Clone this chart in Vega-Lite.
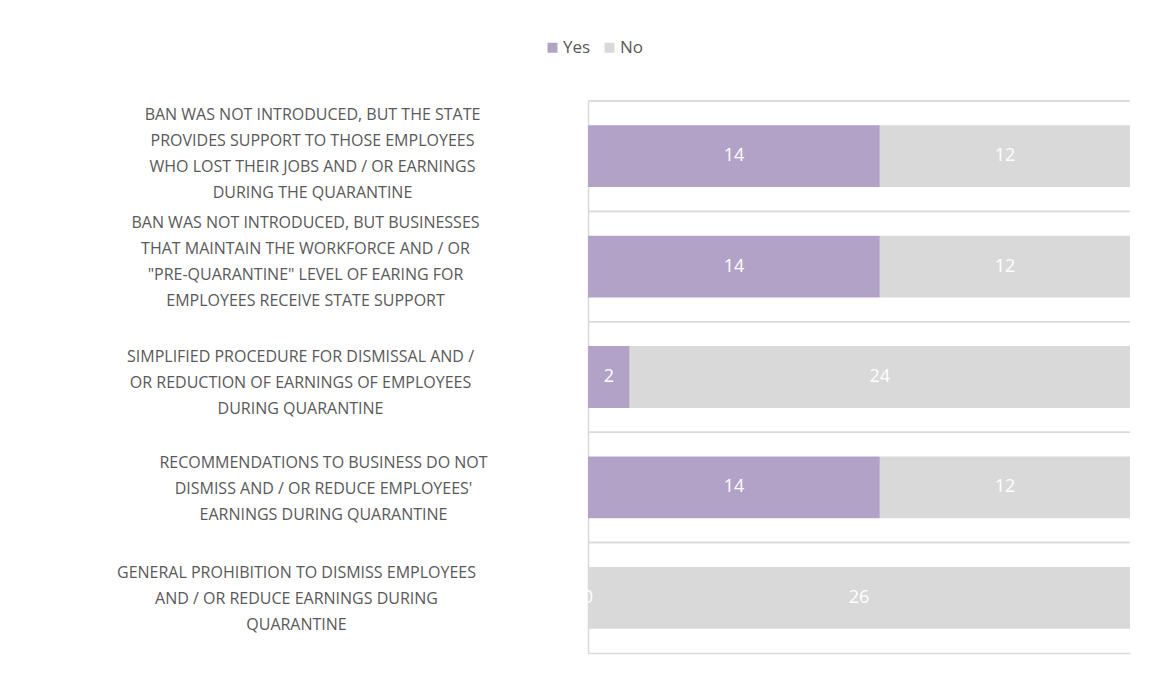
{
  "$schema": "https://vega.github.io/schema/vega-lite/v6.json",
  "width": 542,
  "height": 552,
  "autosize": {"type": "none"},
  "padding": {"left": 588, "top": 101, "right": 21, "bottom": 22},
  "background": "white",
  "config": {"view": {"stroke": null}},
  "data": {
    "values": [
      {"category": "BAN WAS NOT INTRODUCED, BUT THE STATE|PROVIDES SUPPORT TO THOSE EMPLOYEES|WHO LOST THEIR JOBS AND / OR EARNINGS|DURING THE QUARANTINE", "answer": "Yes", "order": 1, "count": 14},
      {"category": "BAN WAS NOT INTRODUCED, BUT THE STATE|PROVIDES SUPPORT TO THOSE EMPLOYEES|WHO LOST THEIR JOBS AND / OR EARNINGS|DURING THE QUARANTINE", "answer": "No", "order": 2, "count": 12},
      {"category": "BAN WAS NOT INTRODUCED, BUT BUSINESSES|THAT MAINTAIN THE WORKFORCE AND / OR|\"PRE-QUARANTINE\" LEVEL OF EARING FOR|EMPLOYEES RECEIVE STATE SUPPORT", "answer": "Yes", "order": 1, "count": 14},
      {"category": "BAN WAS NOT INTRODUCED, BUT BUSINESSES|THAT MAINTAIN THE WORKFORCE AND / OR|\"PRE-QUARANTINE\" LEVEL OF EARING FOR|EMPLOYEES RECEIVE STATE SUPPORT", "answer": "No", "order": 2, "count": 12},
      {"category": "SIMPLIFIED PROCEDURE FOR DISMISSAL AND /|OR REDUCTION OF EARNINGS OF EMPLOYEES|DURING QUARANTINE", "answer": "Yes", "order": 1, "count": 2},
      {"category": "SIMPLIFIED PROCEDURE FOR DISMISSAL AND /|OR REDUCTION OF EARNINGS OF EMPLOYEES|DURING QUARANTINE", "answer": "No", "order": 2, "count": 24},
      {"category": "RECOMMENDATIONS TO BUSINESS DO NOT|DISMISS AND / OR REDUCE EMPLOYEES'|EARNINGS DURING QUARANTINE", "answer": "Yes", "order": 1, "count": 14},
      {"category": "RECOMMENDATIONS TO BUSINESS DO NOT|DISMISS AND / OR REDUCE EMPLOYEES'|EARNINGS DURING QUARANTINE", "answer": "No", "order": 2, "count": 12},
      {"category": "GENERAL PROHIBITION TO DISMISS EMPLOYEES|AND / OR REDUCE EARNINGS DURING|QUARANTINE", "answer": "Yes", "order": 1, "count": 0},
      {"category": "GENERAL PROHIBITION TO DISMISS EMPLOYEES|AND / OR REDUCE EARNINGS DURING|QUARANTINE", "answer": "No", "order": 2, "count": 26}
    ]
  },
  "encoding": {
    "y": {
      "field": "category",
      "type": "nominal",
      "sort": null,
      "scale": {"paddingInner": 0, "paddingOuter": 0},
      "axis": {
        "title": null,
        "ticks": false,
        "grid": false,
        "domainColor": "#d9d9d9",
        "domainWidth": 1.5,
        "labelAlign": "center",
        "labelBaseline": "middle",
        "labelPadding": {
          "condition": [
            {"test": "datum.value[0] == 'B' && datum.value[28] == 'T'", "value": 276},
            {"test": "datum.value[0] == 'B'", "value": 283},
            {"test": "datum.value[0] == 'S'", "value": 288},
            {"test": "datum.value[0] == 'R'", "value": 265}
          ],
          "value": 292
        },
        "labelOffset": {
          "condition": [
            {"test": "datum.value[0] == 'B' && datum.value[28] == 'T'", "value": -41},
            {"test": "datum.value[0] == 'B'", "value": -44},
            {"test": "datum.value[0] == 'S'", "value": -20},
            {"test": "datum.value[0] == 'R'", "value": -24}
          ],
          "value": -25
        },
        "labelFont": "Open Sans",
        "labelFontSize": 16,
        "labelColor": "#595959",
        "labelLineHeight": 26,
        "labelLimit": 0,
        "labelExpr": "split(datum.label, '|')"
      }
    }
  },
  "layer": [
    {
      "mark": {"type": "rule", "color": "#d9d9d9", "strokeWidth": 1.5},
      "encoding": {
        "y": {"field": "category", "type": "nominal", "sort": null, "bandPosition": 0}
      }
    },
    {
      "mark": {"type": "bar", "height": {"band": 0.56}},
      "encoding": {
        "x": {
          "field": "count", "type": "quantitative", "stack": "zero",
          "scale": {"domain": [0, 26], "nice": false},
          "axis": {"orient": "bottom", "title": null, "labels": false, "ticks": false, "grid": false, "domain": true, "domainColor": "#d9d9d9", "domainWidth": 1.5}
        },
        "color": {
          "field": "answer",
          "type": "nominal",
          "scale": {"domain": ["Yes", "No"], "range": ["#b3a2c7", "#d9d9d9"]},
          "legend": {
            "title": null,
            "orient": "none",
            "legendX": -44,
            "legendY": -62,
            "direction": "horizontal",
            "symbolType": "square",
            "symbolSize": 100,
            "symbolStrokeWidth": 0,
            "labelFont": "Open Sans",
            "labelFontSize": 17,
            "labelColor": "#595959",
            "labelOffset": 2,
            "columnPadding": 10,
            "padding": 0
          }
        },
        "order": {"field": "order", "type": "quantitative"}
      }
    },
    {
      "transform": [
        {"stack": "count", "groupby": ["category"], "sort": [{"field": "order"}], "as": ["x0", "x1"]},
        {"fold": ["x0", "x1"], "as": ["edge", "pos"]},
        {"aggregate": [{"op": "mean", "field": "pos", "as": "mid"}], "groupby": ["category", "answer", "count"]}
      ],
      "mark": {"type": "text", "color": "white", "font": "Open Sans", "fontSize": 18, "baseline": "middle", "align": "center"},
      "encoding": {
        "x": {
          "field": "mid", "type": "quantitative",
          "axis": {"orient": "bottom", "title": null, "labels": false, "ticks": false, "grid": false, "domain": true, "domainColor": "#d9d9d9", "domainWidth": 1.5}
        },
        "text": {"field": "count", "type": "quantitative"}
      }
    }
  ]
}
